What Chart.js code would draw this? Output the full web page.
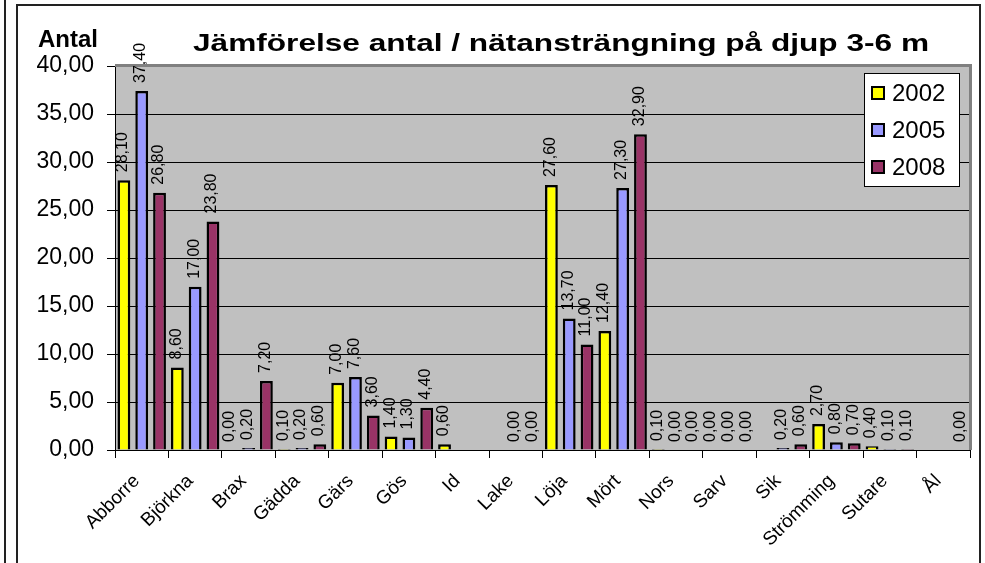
<!DOCTYPE html>
<html><head><meta charset="utf-8">
<script src="https://cdn.jsdelivr.net/npm/chart.js@4/dist/chart.umd.min.js"></script>
<style>html,body{margin:0;padding:0;background:#fff;overflow:hidden}canvas{display:block}</style>
</head><body>
<canvas id="c" width="985" height="563"></canvas>
<script>
const categories = ['Abborre','Björkna','Brax','Gädda','Gärs','Gös','Id','Lake','Löja','Mört','Nors','Sarv','Sik','Strömming','Sutare','Ål'];
const seriesNames = ['2002','2005','2008'];
const values2002 = [28.10, 8.60, 0.00, 0.10, 7.00, 1.40, 0.60, null, 27.60, 12.40, 0.10, 0.00, null, 2.70, 0.40, null];
const values2005 = [37.40, 17.00, 0.20, 0.20, 7.60, 1.30, null, 0.00, 13.70, 27.30, 0.00, 0.00, 0.20, 0.80, 0.10, null];
const values2008 = [26.80, 23.80, 7.20, 0.60, 3.60, 4.40, null, 0.00, 11.00, 32.90, 0.00, 0.00, 0.60, 0.70, 0.10, 0.00];
const yMin = 0, yMax = 40, yStep = 5;
const titleText = 'Jämförelse antal / nätansträngning på djup 3-6 m';
const yAxisTitle = 'Antal';
const seriesColors = ['#FFFF00', '#9999FF', '#993366'];

const FONT = '"Liberation Sans", Arial, sans-serif';
const fmt = v => v.toFixed(2).replace('.', ',');

const decor = {
  id: 'decor',
  beforeDraw(chart) {
    const {ctx, chartArea: a} = chart;
    ctx.save();
    ctx.fillStyle = '#fff';
    ctx.fillRect(0, 0, chart.width, chart.height);
    ctx.strokeStyle = '#222';
    ctx.lineWidth = 2;
    ctx.beginPath(); ctx.moveTo(5, 0); ctx.lineTo(5, chart.height); ctx.stroke();
    ctx.strokeRect(17, 5, 963, 620);
    ctx.fillStyle = '#C0C0C0';
    ctx.fillRect(a.left, a.top, a.right - a.left, a.bottom - a.top);
    ctx.restore();
  },
  beforeDatasetsDraw(chart) {
    const {ctx, chartArea: a} = chart;
    ctx.save();
    ctx.strokeStyle = '#808080';
    ctx.lineWidth = 3;
    ctx.beginPath();
    ctx.moveTo(a.left, a.top - 0.5);
    ctx.lineTo(a.right + 0.5, a.top - 0.5);
    ctx.lineTo(a.right + 0.5, a.bottom);
    ctx.stroke();
    ctx.restore();
  },
  afterDatasetsDraw(chart) {
    const {ctx} = chart;
    ctx.save();
    ctx.fillStyle = '#000';
    ctx.font = '16px ' + FONT;
    ctx.textAlign = 'left';
    ctx.textBaseline = 'middle';
    chart.data.datasets.forEach((ds, di) => {
      const meta = chart.getDatasetMeta(di);
      meta.data.forEach((el, i) => {
        const v = ds.data[i];
        if (v === null || v === undefined) return;
        ctx.save();
        ctx.translate(el.x - 1, el.y - 8);
        ctx.rotate(-Math.PI / 2);
        ctx.fillText(fmt(v), 0, 0);
        ctx.restore();
      });
    });
    ctx.restore();
  },
  afterDraw(chart) {
    const {ctx} = chart;
    ctx.save();
    ctx.fillStyle = '#000';
    // title
    ctx.font = 'bold 24px ' + FONT;
    ctx.textBaseline = 'alphabetic';
    ctx.textAlign = 'left';
    const w = ctx.measureText(titleText).width;
    const targetW = 736;
    ctx.save();
    ctx.translate(193, 51);
    ctx.scale(targetW / w, 1);
    ctx.fillText(titleText, 0, 0);
    ctx.restore();
    // y axis title
    ctx.font = 'bold 24px ' + FONT;
    ctx.fillText(yAxisTitle, 38, 47);
    // legend
    const lx = 864, ly = 73, lw = 95, lh = 113;
    ctx.fillStyle = '#fff';
    ctx.fillRect(lx, ly, lw, lh);
    ctx.strokeStyle = '#000';
    ctx.lineWidth = 1;
    ctx.strokeRect(lx + 0.5, ly + 0.5, lw, lh);
    ctx.font = '24px ' + FONT;
    ctx.textBaseline = 'middle';
    chart.data.datasets.forEach((ds, i) => {
      const cy = 93 + i * 37;
      ctx.fillStyle = ds.backgroundColor;
      ctx.fillRect(872, cy - 6, 12, 12);
      ctx.lineWidth = 2;
      ctx.strokeStyle = '#000';
      ctx.strokeRect(872, cy - 6, 12, 12);
      ctx.fillStyle = '#000';
      ctx.fillText(ds.label, 892, cy + 1);
    });
    ctx.restore();
  }
};

const mk = (label, data, color) => ({
  label, data, backgroundColor: color, borderColor: '#000', borderWidth: 2.5,
  categoryPercentage: 1.0, barPercentage: 0.72
});

new Chart(document.getElementById('c'), {
  type: 'bar',
  data: {
    labels: categories,
    datasets: [
      mk(seriesNames[0], values2002, seriesColors[0]),
      mk(seriesNames[1], values2005, seriesColors[1]),
      mk(seriesNames[2], values2008, seriesColors[2])
    ]
  },
  options: {
    responsive: false,
    animation: false,
    devicePixelRatio: 1,
    layout: { padding: { top: 66, right: 15, left: 0, bottom: 0 } },
    plugins: { legend: { display: false }, title: { display: false }, tooltip: { enabled: false } },
    scales: {
      x: {
        afterFit: s => { s.height = 113; },
        grid: { offset: true, drawOnChartArea: false, color: '#000', tickLength: 8, tickColor: '#000' },
        border: { color: '#000', width: 1 },
        ticks: { autoSkip: false, maxRotation: 45, minRotation: 45, color: '#000', padding: 12, labelOffset: -5,
                  font: { family: FONT, size: 19 } }
      },
      y: {
        min: yMin, max: yMax,
        afterFit: s => { s.width = 115; },
        grid: { color: '#000', lineWidth: 1, tickLength: 8, tickColor: '#000' },
        border: { color: '#000', width: 1 },
        ticks: { stepSize: yStep, color: '#000', padding: 13, callback: v => fmt(v),
                 font: { family: FONT, size: 23 } }
      }
    }
  },
  plugins: [decor]
});
</script>
</body></html>
